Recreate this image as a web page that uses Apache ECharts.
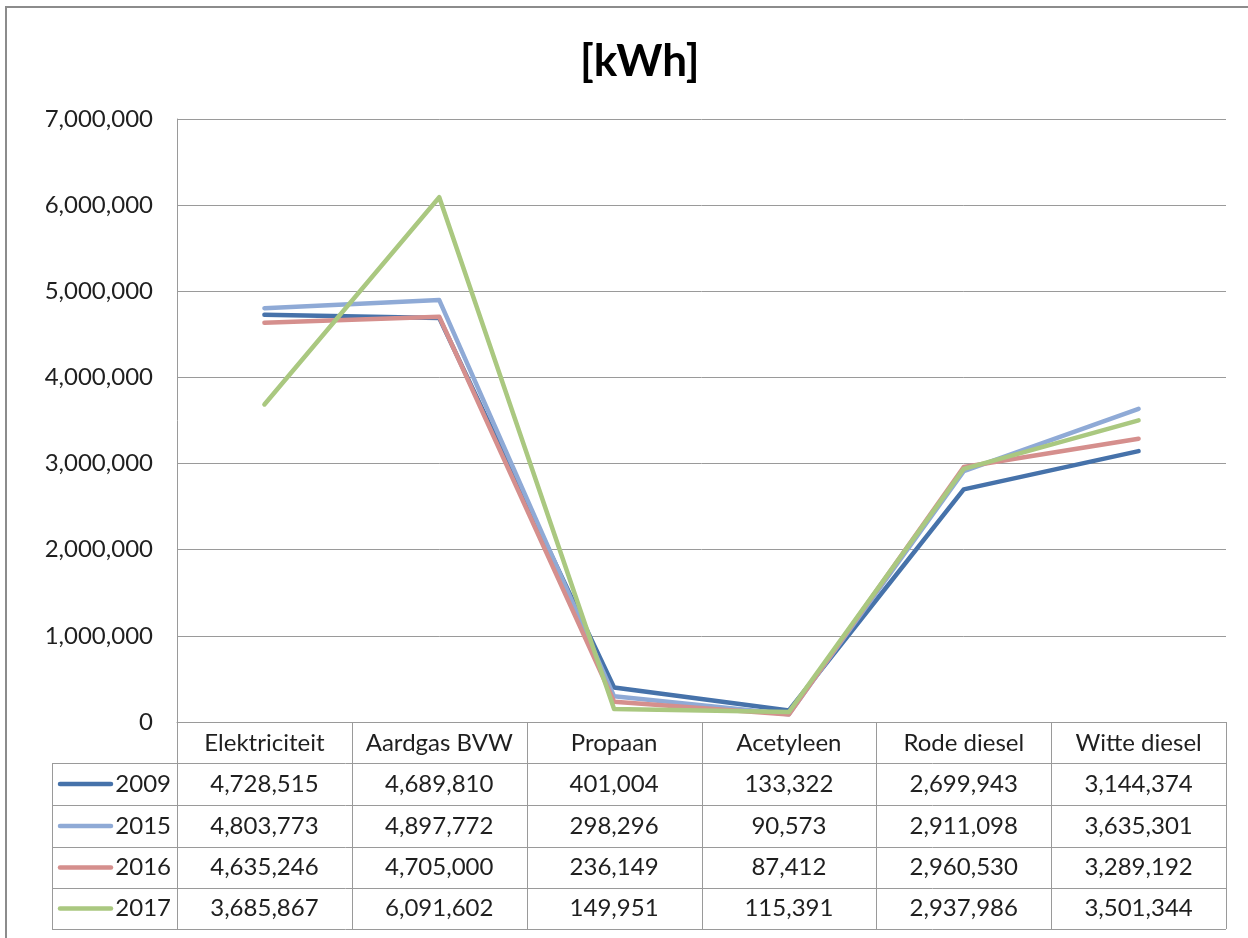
<!DOCTYPE html>
<html>
<head>
<meta charset="utf-8">
<script src="https://cdn.jsdelivr.net/npm/echarts@6/dist/echarts.min.js"></script>
<style>
  html, body { margin: 0; padding: 0; background: #fff; }
  #chart { width: 1248px; height: 938px; }
</style>
</head>
<body>
<div id="chart"></div>
<script>
// Energy use per carrier, in kWh
const categories = ['Elektriciteit', 'Aardgas BVW', 'Propaan', 'Acetyleen', 'Rode diesel', 'Witte diesel'];
const years = ['2009', '2015', '2016', '2017'];
const values2009 = [4728515, 4689810, 401004, 133322, 2699943, 3144374];
const values2015 = [4803773, 4897772, 298296, 90573, 2911098, 3635301];
const values2016 = [4635246, 4705000, 236149, 87412, 2960530, 3289192];
const values2017 = [3685867, 6091602, 149951, 115391, 2937986, 3501344];
const yTicks = [0, 1000000, 2000000, 3000000, 4000000, 5000000, 6000000, 7000000];

const seriesValues = [values2009, values2015, values2016, values2017];
const colors = ['#4672AA', '#8FAAD6', '#D58F8D', '#AAC880'];

const FONT = 'Lato, "Open Sans", sans-serif';
const TEXT = '#1f1f1f';
const LINE = '#9a9a9a';
const FS = 24;

// plot frame
const W = 1248, H = 938;
const gridLeft = 177, gridRight = 1226, gridTop = 119, gridBottom = 722;
const rowTops = [763, 805, 847, 888, 929];

const fmt = v => v.toLocaleString('en-US');

const chart = echarts.init(document.getElementById('chart'), null, { renderer: 'canvas' });

const series = years.map((y, i) => ({
  name: y,
  type: 'line',
  data: seriesValues[i],
  symbol: 'none',
  lineStyle: { width: 4.5, color: colors[i], cap: 'round', join: 'round' },
  itemStyle: { color: colors[i] },
  z: 2 + i
}));

chart.setOption({
  animation: false,
  backgroundColor: '#fff',
  title: {
    text: '[kWh]',
    left: 575,
    top: 35,
    textStyle: { fontFamily: FONT, fontSize: 44, fontWeight: 'bold', color: '#000' }
  },
  grid: {
    left: gridLeft,
    right: W - gridRight,
    top: gridTop,
    bottom: H - gridBottom,
    containLabel: false
  },
  xAxis: {
    type: 'category',
    data: categories,
    boundaryGap: true,
    axisLine: { show: true, lineStyle: { color: LINE, width: 1 } },
    axisTick: { show: false },
    axisLabel: { margin: 9, fontFamily: FONT, fontSize: FS, color: TEXT, interval: 0 },
    splitLine: { show: false }
  },
  yAxis: {
    type: 'value',
    min: yTicks[0],
    max: yTicks[yTicks.length - 1],
    interval: yTicks[1] - yTicks[0],
    axisLine: { show: true, lineStyle: { color: LINE, width: 1 } },
    axisTick: { show: false },
    axisLabel: { margin: 24, fontFamily: FONT, fontSize: FS, color: TEXT, formatter: v => fmt(v) },
    splitLine: { show: true, lineStyle: { color: LINE, width: 1 } }
  },
  series: series
});

// data table under the plot, built from the same arrays
const colW = (gridRight - gridLeft) / categories.length;
const g = [];
const line = (x1, y1, x2, y2) => g.push({
  type: 'line', silent: true, z: 10,
  shape: { x1, y1, x2, y2 },
  style: { stroke: LINE, lineWidth: 1 }
});

// outer chart border
g.push({
  type: 'rect', silent: true, z: 0,
  shape: { x: 6, y: 7, width: W + 20, height: H + 20 },
  style: { fill: 'none', stroke: '#8c8c8c', lineWidth: 2 }
});

line(gridLeft + 0.5, gridBottom, gridLeft + 0.5, rowTops[rowTops.length - 1]);
for (let c = 1; c <= categories.length; c++) {
  const x = Math.round(gridLeft + c * colW) + 0.5;
  line(x, gridBottom, x, rowTops[rowTops.length - 1]);
}
rowTops.forEach(y => line(52, y + 0.5, gridRight, y + 0.5));
line(52.5, rowTops[0], 52.5, rowTops[rowTops.length - 1]);

years.forEach((yr, r) => {
  const cy = (rowTops[r] + rowTops[r + 1]) / 2;
  g.push({
    type: 'line', silent: true, z: 11,
    shape: { x1: 60, y1: cy, x2: 111, y2: cy },
    style: { stroke: colors[r], lineWidth: 4.5, lineCap: 'round' }
  });
  g.push({
    type: 'text', silent: true, z: 11,
    x: 171, y: cy,
    style: { text: yr, fontFamily: FONT, fontSize: FS, fill: TEXT, align: 'right', verticalAlign: 'middle' }
  });
  seriesValues[r].forEach((v, c) => {
    g.push({
      type: 'text', silent: true, z: 11,
      x: gridLeft + (c + 0.5) * colW, y: cy,
      style: { text: fmt(v), fontFamily: FONT, fontSize: FS, fill: TEXT, align: 'center', verticalAlign: 'middle' }
    });
  });
});

chart.setOption({ graphic: g });
</script>
</body>
</html>
